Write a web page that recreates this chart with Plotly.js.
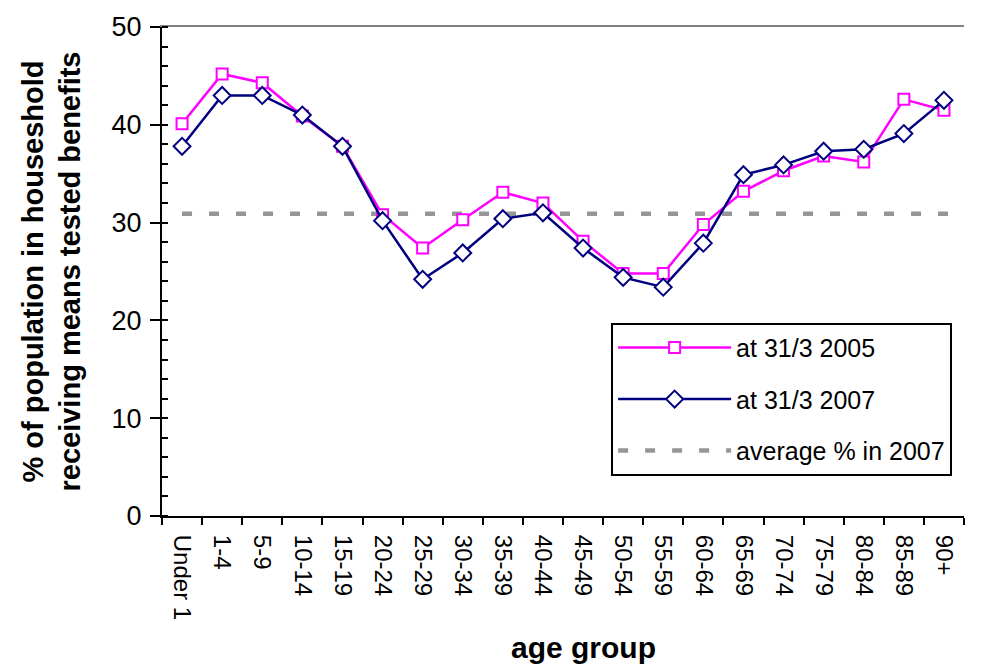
<!DOCTYPE html>
<html>
<head>
<meta charset="utf-8">
<script src="https://cdn.plot.ly/plotly-3.0.1.min.js"></script>
<style>html,body{margin:0;padding:0;background:#fff;}#chart{width:990px;height:666px;}</style>
</head>
<body>
<div id="chart"></div>
<script>
const categories = ['Under 1','1-4','5-9','10-14','15-19','20-24','25-29','30-34','35-39','40-44','45-49','50-54','55-59','60-64','65-69','70-74','75-79','80-84','85-89','90+'];
const at2005 = [40.1,45.2,44.3,40.9,37.8,30.8,27.4,30.3,33.1,32.0,28.1,24.8,24.8,29.8,33.2,35.3,36.8,36.2,42.6,41.5];
const at2007 = [37.8,43.0,43.0,41.0,37.8,30.2,24.2,26.9,30.4,31.0,27.4,24.4,23.4,27.9,34.9,35.9,37.3,37.5,39.1,42.5];
const average2007 = 30.9;
const seriesNames = ['at 31/3 2005','at 31/3 2007','average % in 2007'];
const yTicks = [0,10,20,30,40,50];
const xTitle = 'age group';
const yTitle = '% of population in houseshold<br>receiving means tested benefits';

const idx = categories.map((c,i)=>i);
const xRange = [-0.5, categories.length - 0.5];
const FONT = 'Liberation Sans, Arial, sans-serif';

const traces = [
  {x: idx, y: at2005, xaxis:'x2', yaxis:'y2', type:'scatter', mode:'lines+markers', name: seriesNames[0],
   legendgroup:'a', line:{color:'#FF00FF', width:2.5},
   marker:{symbol:'square', size:11, color:'#FFFFFF', line:{color:'#FF00FF', width:2}}, cliponaxis:false},
  {x: idx, y: at2007, xaxis:'x2', yaxis:'y2', type:'scatter', mode:'lines+markers', name: seriesNames[1],
   legendgroup:'b', line:{color:'#000080', width:2.5},
   marker:{symbol:'diamond', size:13, color:'#FFFFFF', line:{color:'#000080', width:2}}, cliponaxis:false},
  {x: [idx[0], xRange[1]], y: [average2007, average2007], xaxis:'x', yaxis:'y', type:'scatter', mode:'lines',
   name: seriesNames[2], legendgroup:'c', line:{color:'#969696', width:4.5, dash:'10px,17px'}}
];

const layout = {
  width: 990, height: 666,
  margin: {l:162, r:26, t:27, b:150},
  paper_bgcolor:'#FFFFFF', plot_bgcolor:'#FFFFFF',
  font: {family: FONT, color:'#000000', size:25},
  showlegend: true,
  xaxis: {
    range: xRange, tickmode:'array', tickvals: idx, ticktext: categories,
    ticks:'', tickangle: 90, tickfont:{size:24, family: FONT},
    showline:true, linecolor:'#000000', linewidth:2, showgrid:false, zeroline:false,
    minor:{tickmode:'linear', tick0:-0.5, dtick:1, ticks:'outside', ticklen:7, tickwidth:2, tickcolor:'#000000', showgrid:false},
    ticklabelstandoff: 12,
    automargin:false, fixedrange:true
  },
  yaxis: {
    range:[0,50], tickmode:'array', tickvals: yTicks, ticks:'outside', ticklen:10, tickwidth:2, tickcolor:'#000000',
    showline:true, linecolor:'#000000', linewidth:2, showgrid:false, zeroline:false,
    minor:{tickmode:'linear', tick0:0, dtick:2, ticks:'inside', ticklen:6, tickwidth:2, tickcolor:'#000000', showgrid:false},
    tickfont:{size:27, family: FONT}, ticklabelstandoff: 3,
    title:{text:'<b>' + yTitle + '</b>', font:{size:29, family: FONT}, standoff: 22},
    automargin:false, fixedrange:true
  },
  xaxis2: {
    overlaying:'x', anchor:'y2', side:'top', range: xRange,
    showline:true, linecolor:'#808080', linewidth:2, ticks:'', showticklabels:false,
    showgrid:false, zeroline:false, fixedrange:true
  },
  yaxis2: {
    overlaying:'y', anchor:'x2', side:'left', range:[0,50], tickmode:'array', tickvals: yTicks,
    ticks:'inside', ticklen:6, tickwidth:2, tickcolor:'#000000', showticklabels:false,
    showline:false, showgrid:false, zeroline:false, fixedrange:true
  },
  annotations: [
    {text:'<b>' + xTitle + '</b>', xref:'paper', yref:'paper', x:0.525, y:-0.268, xanchor:'center', yanchor:'middle',
     showarrow:false, font:{size:30, family: FONT, color:'#000000'}}
  ],
  legend: {
    x: 0.56, y: 0.395, xanchor:'left', yanchor:'top',
    bgcolor:'#FFFFFF', bordercolor:'#000000', borderwidth:2,
    font:{size:25, family: FONT}, traceorder:'grouped', tracegroupgap: 16,
    itemwidth: 113
  }
};

Plotly.newPlot('chart', traces, layout, {displayModeBar:false, staticPlot:true});
</script>
</body>
</html>
